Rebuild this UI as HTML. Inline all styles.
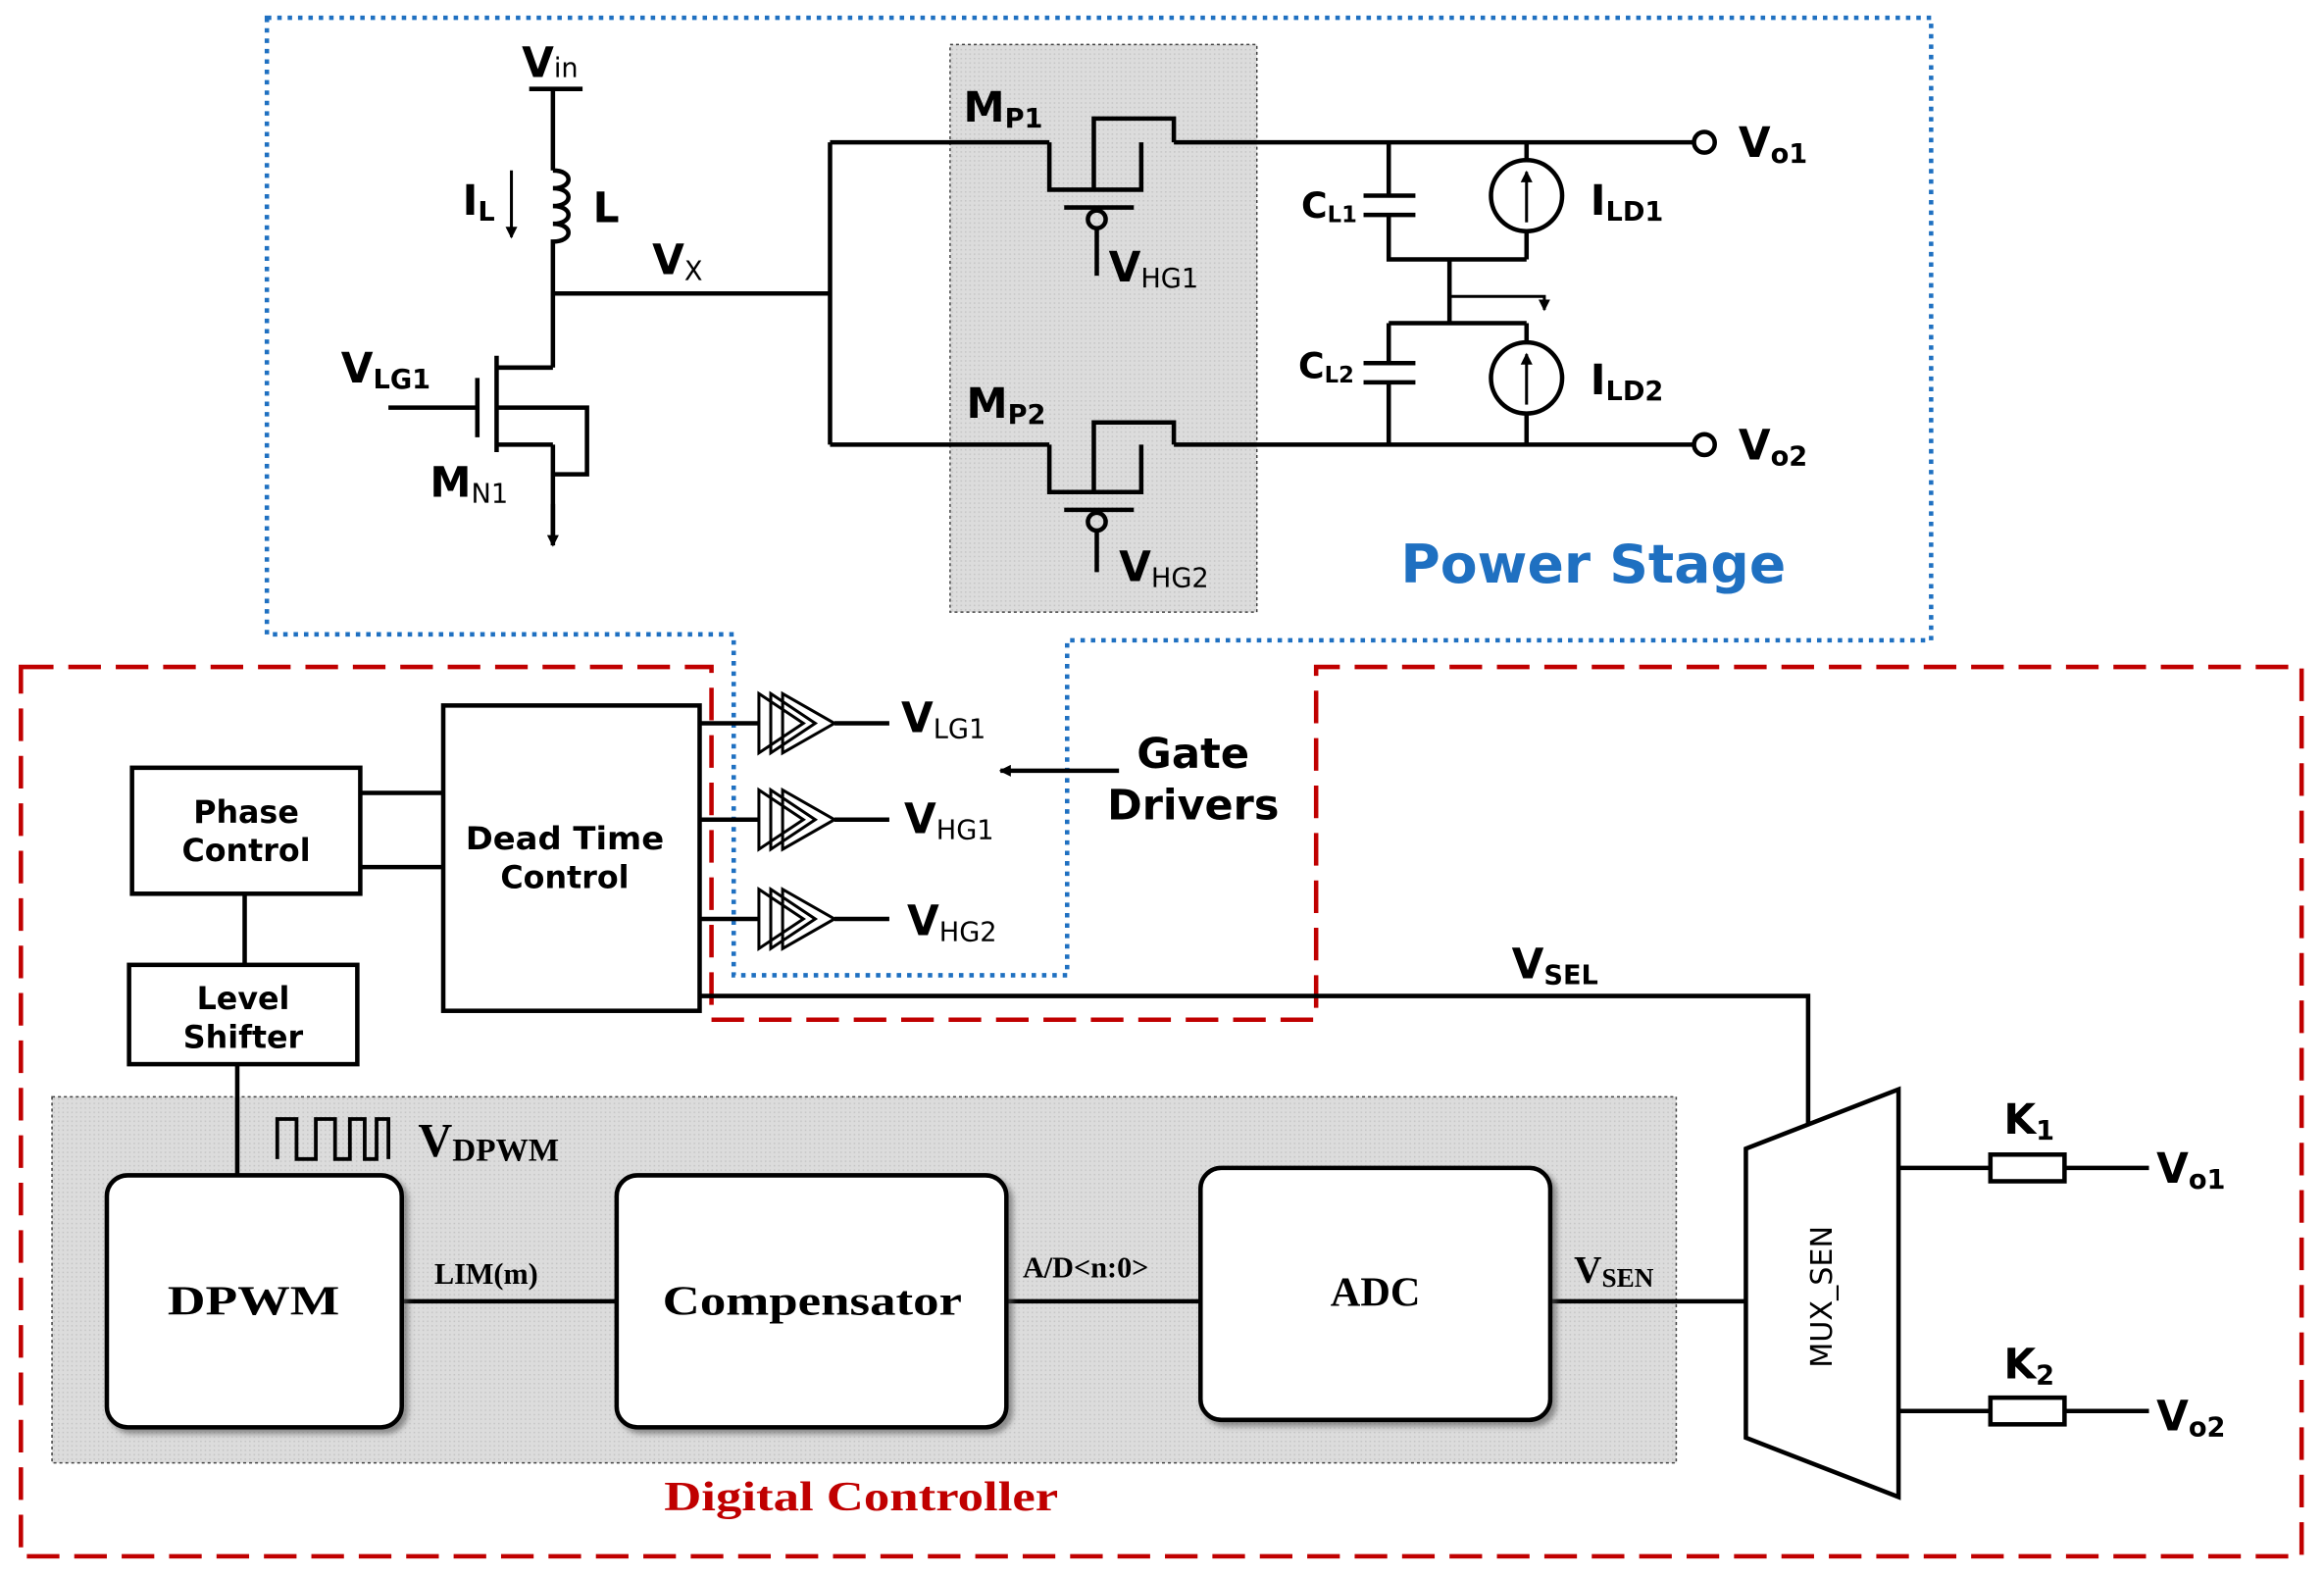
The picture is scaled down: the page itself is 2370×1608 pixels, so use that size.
<!DOCTYPE html>
<html><head><meta charset="utf-8"><style>
html,body{margin:0;padding:0;background:#fff;}
svg{display:block;}
.s{font-family:"DejaVu Sans","Liberation Sans",sans-serif;font-weight:bold;fill:#000;}
.r{font-family:"Liberation Serif",serif;font-weight:bold;fill:#000;}
</style></head><body>
<svg width="2370" height="1608" viewBox="0 0 1568 1064" xmlns="http://www.w3.org/2000/svg">
<defs>
<pattern id="dots" width="3" height="3" patternUnits="userSpaceOnUse"><rect width="3" height="3" fill="#dcdcdc"/><rect width="1" height="1" fill="#c4c4c4"/></pattern>
<marker id="ah" markerWidth="8" markerHeight="8" refX="7" refY="4" orient="auto" markerUnits="userSpaceOnUse"><path d="M0,0 L8,4 L0,8 z" fill="#000"/></marker>
<filter id="sh"><feDropShadow dx="3" dy="3" stdDeviation="2" flood-color="#555" flood-opacity="0.6"/></filter>
</defs>
<rect x="641" y="30" width="207" height="383" fill="url(#dots)" stroke="#444" stroke-width="1" stroke-dasharray="2 2"/>
<rect x="35" y="740" width="1096" height="247" fill="url(#dots)" stroke="#444" stroke-width="1" stroke-dasharray="2 2"/>
<path d="M180,12 H1303 V432 H720 V658 H495 V428 H180 Z" fill="none" stroke="#1f70c1" stroke-width="3" stroke-dasharray="3 4"/>
<path d="M14,450 H480 V688 H888 V450 H1553 V1050 H14 Z" fill="none" stroke="#c00000" stroke-width="3" stroke-dasharray="22 10"/>
<g stroke="#000" stroke-width="3" fill="none">
<path d="M357,60 H393 M373,60 V115"/>
<path d="M373,115 c14,0 14,12 0,12 c14,0 14,12 0,12 c14,0 14,12 0,12 c14,0 14,12 0,12 V198 V248"/>
<path d="M345,115 V160" stroke-width="2" marker-end="url(#ah)"/>
<path d="M373,198 H560 M560,96 V300 M560,96 H708 M560,300 H708"/>
<path d="M373,248 H335 M335,240 V305 M322,255 V295 M262,275 H322 M335,300 H373 M335,275 H396 V320 H373 M373,300 V362"/>
<path d="M373,340 V368" marker-end="url(#ah)"/>
<path d="M708,96 V128 H770 V96 M738,128 V80 H792 V96 M718,140 H765 M740,140 V142 M740,154 V186 M792,96 H1142"/>
<circle cx="740" cy="148" r="6"/>
<circle cx="1150" cy="96" r="7"/>
<path d="M708,300 V332 H770 V300 M738,332 V285 H792 V300 M718,344 H765 M740,344 V346 M740,358 V386 M792,300 H1142"/>
<circle cx="740" cy="352" r="6"/>
<circle cx="1150" cy="300" r="7"/>
<path d="M937,96 V132 M920,132 H955 M920,145 H955 M937,145 V175 H1030 M1030,96 V108 M1030,156 V175 M978,175 V218 M937,218 H1030 M937,218 V245 M920,245 H955 M920,258 H955 M937,258 V300 M1030,218 V231 M1030,279 V300"/>
<circle cx="1030" cy="132" r="24"/>
<circle cx="1030" cy="255" r="24"/>
<path d="M1030,150 V116" stroke-width="2" marker-end="url(#ah)"/>
<path d="M1030,273 V239" stroke-width="2" marker-end="url(#ah)"/>
<path d="M978,200 H1042 V209" stroke-width="2" marker-end="url(#ah)"/>
<rect x="89" y="518" width="154" height="85"/>
<rect x="299" y="476" width="173" height="206"/>
<rect x="87" y="651" width="154" height="67"/>
<path d="M243,535 H299 M243,585 H299 M165,603 V651 M160,718 V792"/>
<path d="M472,488 H512 M472,553 H512 M472,620 H512 M563,488 H600 M563,553 H600 M563,620 H600"/>
<path d="M755,520 H675" marker-end="url(#ah)"/>
<path d="M472,672 H1220 V758"/>
<path d="M1178,775 L1281,735 V1010 L1178,970 Z"/>
<path d="M1281,788 H1343 M1393,788 H1450 M1281,952 H1343 M1393,952 H1450"/>
<rect x="1343" y="779" width="50" height="18"/>
<rect x="1343" y="943" width="50" height="18"/>
<path d="M187,782 V755 H200 V782 H213 V755 H226 V782 H236 V755 H246 V782 H254 V755 H262 V782" stroke-width="2.5"/>
<path d="M271,878 H416 M679,878 H810 M1046,878 H1178"/>
</g>
<g stroke="#000" stroke-width="2" fill="#fff">
<path d="M512,468 L542,488 L512,508 Z M520,468 L550,488 L520,508 Z M528,468 L563,488 L528,508 Z"/>
<path d="M512,533 L542,553 L512,573 Z M520,533 L550,553 L520,573 Z M528,533 L563,553 L528,573 Z"/>
<path d="M512,600 L542,620 L512,640 Z M520,600 L550,620 L520,640 Z M528,600 L563,620 L528,640 Z"/>
</g>
<g stroke="#000" stroke-width="3" fill="#fff" filter="url(#sh)">
<rect x="72" y="793" width="199" height="170" rx="14"/>
<rect x="416" y="793" width="263" height="170" rx="14"/>
<rect x="810" y="788" width="236" height="170" rx="14"/>
</g>
<g class="s" font-size="28">
<text x="352" y="52">V<tspan font-size="18" font-weight="normal">in</tspan></text>
<text x="312" y="145">I<tspan font-size="18" dy="4">L</tspan></text>
<text x="400" y="150">L</text>
<text x="440" y="185">V<tspan font-size="18" font-weight="normal" dy="4">X</tspan></text>
<text x="230" y="258">V<tspan font-size="18" dy="4">LG1</tspan></text>
<text x="290" y="335">M<tspan font-size="18" font-weight="normal" dy="4">N1</tspan></text>
<text x="650" y="82">M<tspan font-size="18" dy="4">P1</tspan></text>
<text x="748" y="190">V<tspan font-size="18" font-weight="normal" dy="4">HG1</tspan></text>
<text x="652" y="282">M<tspan font-size="18" dy="4">P2</tspan></text>
<text x="755" y="392">V<tspan font-size="18" font-weight="normal" dy="4">HG2</tspan></text>
<text x="878" y="147" font-size="24">C<tspan font-size="15" dy="3">L1</tspan></text>
<text x="1073" y="145">I<tspan font-size="18" dy="4">LD1</tspan></text>
<text x="876" y="255" font-size="24">C<tspan font-size="15" dy="3">L2</tspan></text>
<text x="1073" y="266">I<tspan font-size="18" dy="4">LD2</tspan></text>
<text x="1173" y="106">V<tspan font-size="18" dy="4">o1</tspan></text>
<text x="1173" y="310">V<tspan font-size="18" dy="4">o2</tspan></text>
<text x="608" y="494">V<tspan font-size="18" font-weight="normal" dy="4">LG1</tspan></text>
<text x="610" y="562">V<tspan font-size="18" font-weight="normal" dy="4">HG1</tspan></text>
<text x="612" y="631">V<tspan font-size="18" font-weight="normal" dy="4">HG2</tspan></text>
<text x="1020" y="660">V<tspan font-size="18" dy="4">SEL</tspan></text>
<text x="1352" y="765">K<tspan font-size="18" dy="4">1</tspan></text>
<text x="1352" y="930">K<tspan font-size="18" dy="4">2</tspan></text>
<text x="1455" y="798">V<tspan font-size="18" dy="4">o1</tspan></text>
<text x="1455" y="965">V<tspan font-size="18" dy="4">o2</tspan></text>
</g>
<text class="s" x="945" y="393" font-size="36" style="fill:#1f70c1" textLength="260" lengthAdjust="spacingAndGlyphs">Power Stage</text>
<g class="s" font-size="28" text-anchor="middle">
<text x="805" y="518" textLength="76" lengthAdjust="spacingAndGlyphs">Gate</text>
<text x="805" y="553" textLength="116" lengthAdjust="spacingAndGlyphs">Drivers</text>
</g>
<g class="s" font-size="21" text-anchor="middle">
<text x="166" y="555">Phase</text>
<text x="166" y="581">Control</text>
<text x="381" y="573" textLength="134" lengthAdjust="spacingAndGlyphs">Dead Time</text>
<text x="381" y="599">Control</text>
<text x="164" y="681">Level</text>
<text x="164" y="707">Shifter</text>
</g>
<text class="s" font-size="20" style="font-weight:normal" transform="translate(1236,875) rotate(-90)" text-anchor="middle">MUX_SEN</text>
<g class="r">
<text x="282" y="780" font-size="32">V<tspan font-size="22" dy="3">DPWM</tspan></text>
<text x="171" y="887" font-size="28" text-anchor="middle" textLength="116" lengthAdjust="spacingAndGlyphs">DPWM</text>
<text x="548" y="887" font-size="28" text-anchor="middle" textLength="202" lengthAdjust="spacingAndGlyphs">Compensator</text>
<text x="928" y="881" font-size="28" text-anchor="middle">ADC</text>
<text x="293" y="866" font-size="20">LIM(m)</text>
<text x="690" y="862" font-size="20">A/D&lt;n:0&gt;</text>
<text x="1062" y="865" font-size="26">V<tspan font-size="18" dy="3">SEN</tspan></text>
<text x="448" y="1019" font-size="28" style="fill:#c00000" textLength="266" lengthAdjust="spacingAndGlyphs">Digital Controller</text>
</g>
</svg>
</body></html>
